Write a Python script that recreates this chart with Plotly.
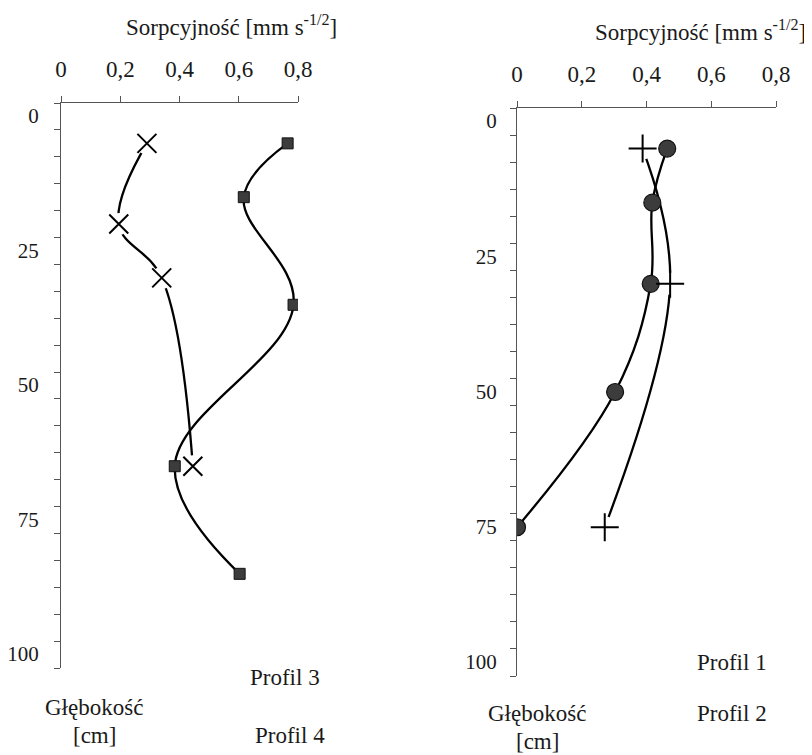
import plotly.graph_objects as go

# ---- data ----
p3_depth = [7.5, 22.5, 32.5, 67.5]
p3_sorp = [0.29, 0.195, 0.34, 0.445]
p4_depth = [7.5, 17.5, 37.5, 67.5, 87.5]
p4_sorp = [0.765, 0.617, 0.785, 0.384, 0.603]
p1_depth = [7.5, 17.5, 32.5, 52.5, 77.5]
p1_sorp = [0.464, 0.418, 0.413, 0.303, 0.0]
p2_depth = [7.5, 32.5, 77.5]
p2_sorp = [0.388, 0.473, 0.271]

x_tickvals = [0, 0.2, 0.4, 0.6, 0.8]
x_ticktext = ["0", "0,2", "0,4", "0,6", "0,8"]
y_tickvals = [0, 25, 50, 75, 100]
y_ticktext = ["0", "25", "50", "75", "100"]

FONT = "'Liberation Serif', 'Times New Roman', 'DejaVu Serif', serif"
TXT = "#1a1a1a"
FS = 23
FSY = 21
# page body has an 8px margin: the figure starts at (8, 8) in the window
OFF = 8
W, H = 804, 747

def px(x):
    return (x - OFF) / W

def py(y):
    return 1 - (y - OFF) / H

fig = go.Figure()

def line(x, y, xa, ya):
    fig.add_trace(go.Scatter(x=x, y=y, mode="lines", xaxis=xa, yaxis=ya,
                             line=dict(color="black", width=2.3, shape="spline", smoothing=1.1),
                             showlegend=False, hoverinfo="skip"))

def gap(x, y, xa, ya):
    fig.add_trace(go.Scatter(x=x, y=y, mode="markers", xaxis=xa, yaxis=ya,
                             marker=dict(symbol="circle", size=22, color="white", line=dict(width=0)),
                             showlegend=False, hoverinfo="skip"))

# left chart: Profil 3 (x), Profil 4 (squares)
line(p3_sorp, p3_depth, "x", "y")
gap(p3_sorp, p3_depth, "x", "y")
fig.add_trace(go.Scatter(x=p4_sorp, y=p4_depth, mode="lines+markers", xaxis="x", yaxis="y",
                         name="Profil 4",
                         line=dict(color="black", width=2.3, shape="spline", smoothing=1.1),
                         marker=dict(symbol="square", size=11, color="#3c3c3c",
                                     line=dict(color="#111", width=1)),
                         showlegend=False))
fig.add_trace(go.Scatter(x=p3_sorp, y=p3_depth, mode="markers", xaxis="x", yaxis="y",
                         name="Profil 3",
                         marker=dict(symbol="x-thin", size=19, color="black",
                                     line=dict(color="black", width=2)),
                         showlegend=False))

# right chart: Profil 1 (circles), Profil 2 (plus)
line(p2_sorp, p2_depth, "x2", "y2")
gap(p2_sorp, p2_depth, "x2", "y2")
fig.add_trace(go.Scatter(x=p1_sorp, y=p1_depth, mode="lines+markers", xaxis="x2", yaxis="y2",
                         name="Profil 1",
                         line=dict(color="black", width=2.3, shape="spline", smoothing=1.1),
                         marker=dict(symbol="circle", size=17, color="#3c3c3c",
                                     line=dict(color="#111", width=1.2)),
                         showlegend=False))
fig.add_trace(go.Scatter(x=p2_sorp, y=p2_depth, mode="markers", xaxis="x2", yaxis="y2",
                         name="Profil 2",
                         marker=dict(symbol="cross-thin", size=20, color="black",
                                     line=dict(color="black", width=2)),
                         showlegend=False))

def xax(domain, anchor):
    return dict(domain=domain, anchor=anchor, side="top", range=[0, 0.8],
                tickvals=x_tickvals, ticktext=x_ticktext, ticks="outside", ticklen=6,
                tickcolor="#555", tickwidth=1, showline=True, linecolor="#555", linewidth=1,
                showgrid=False, zeroline=False, ticklabelstandoff=10, automargin=False,
                tickfont=dict(family=FONT, size=FS, color=TXT))

def yax(domain, anchor, standoff):
    return dict(domain=domain, anchor=anchor, range=[105, 0],
                tickvals=y_tickvals, ticktext=y_ticktext, ticks="outside", ticklen=6,
                tickcolor="#555", tickwidth=1, showline=True, linecolor="#555", linewidth=1,
                minor=dict(tick0=0, dtick=5, ticks="outside", ticklen=6,
                           tickcolor="#555", tickwidth=1, showgrid=False),
                showgrid=False, zeroline=False, ticklabelstandoff=standoff, ticklabelshift=-13,
                automargin=False,
                tickfont=dict(family=FONT, size=FSY, color=TXT))

fig.update_layout(
    template="none",
    width=W, height=H, margin=dict(l=0, r=0, t=0, b=0, autoexpand=False),
    paper_bgcolor="white", plot_bgcolor="white",
    xaxis=xax([px(61), px(298)], "y"),
    yaxis=yax([py(668), py(103)], "x", 11),
    xaxis2=xax([px(517), px(776)], "y2"),
    yaxis2=yax([py(676), py(108)], "x2", 9),
    showlegend=False,
)

def ann(text, x, y):
    fig.add_annotation(text=text, x=px(x), y=py(y), xref="paper", yref="paper",
                       showarrow=False, xanchor="center", yanchor="middle",
                       font=dict(family=FONT, size=FS, color=TXT))

title = "Sorpcyjność [mm s<sup>-1/2</sup>]"
ann(title, 231, 26)
ann(title, 700, 30)
ann("Profil 3", 285, 677)
ann("Profil 4", 290, 735)
ann("Głębokość", 94, 707)
ann("[cm]", 94, 735)
ann("Profil 1", 732, 662)
ann("Profil 2", 732, 713)
ann("Głębokość", 537, 713)
ann("[cm]", 537, 741)

fig.write_html("out.html")
